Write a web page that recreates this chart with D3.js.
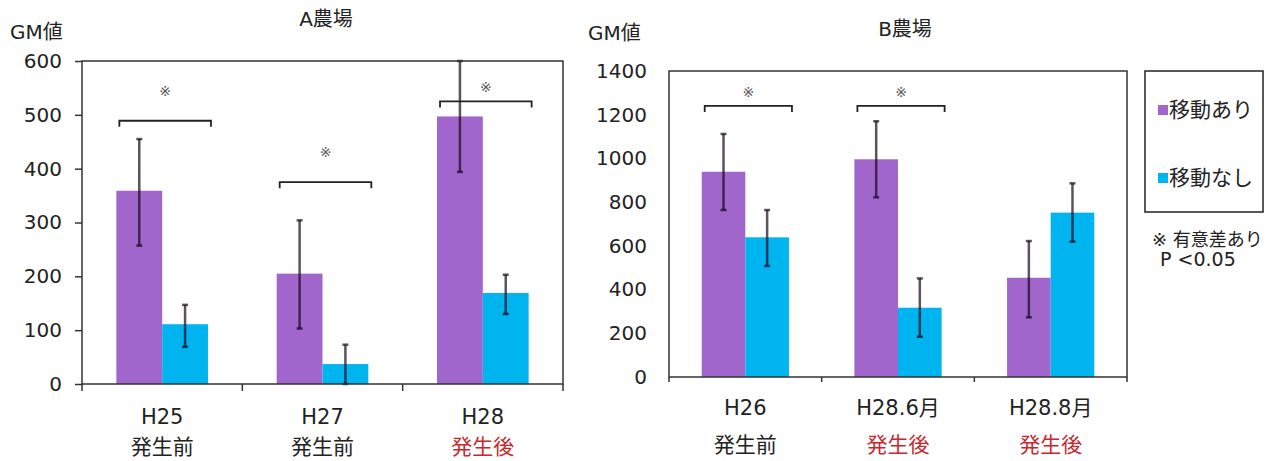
<!DOCTYPE html>
<html>
<head>
<meta charset="utf-8">
<script src="https://cdn.jsdelivr.net/npm/d3@7"></script>
<style>
  body { margin: 0; background: #fff; }
  text { font-family: "DejaVu Sans", "Noto Sans CJK JP", sans-serif; fill: #222; }
</style>
</head>
<body>
<svg width="1280" height="461"></svg>
<script>
// series
var seriesNames = ["移動あり", "移動なし"];
var seriesColors = ["#a066cc", "#00b4f0"];

// A farm
var catsA = ["H25", "H27", "H28"];
var phaseA = ["発生前", "発生前", "発生後"];
var movA = [359, 205, 497];
var movLoA = [257, 103, 394];
var movHiA = [455, 304, 600];
var stayA = [111, 37, 169];
var stayLoA = [69, 0, 130];
var stayHiA = [147, 73, 203];
var ticksA = [0, 100, 200, 300, 400, 500, 600];
var sigA = [0, 1, 2];            // category with bracket
var sigLevelA = [489, 375, 525]; // bracket height
var sigStarA = [545, 431, 552];  // ※ height

// B farm
var catsB = ["H26", "H28.6月", "H28.8月"];
var phaseB = ["発生前", "発生後", "発生後"];
var movB = [939, 996, 454];
var movLoB = [764, 822, 273];
var movHiB = [1112, 1170, 622];
var stayB = [639, 317, 752];
var stayLoB = [508, 184, 619];
var stayHiB = [764, 451, 886];
var ticksB = [0, 200, 400, 600, 800, 1000, 1200, 1400];
var sigB = [0, 1];
var sigLevelB = [1240, 1240];
var sigStarB = [1305, 1305];

var svg = d3.select("svg");

function drawPanel(o) {
  var x = d3.scaleBand().domain(o.cats).range([o.left, o.right]).padding(0);
  var xs = d3.scaleBand().domain(seriesNames).range([0, x.bandwidth()]).paddingInner(0).paddingOuter(0.75);
  var y = d3.scaleLinear().domain([0, o.max]).range([o.bottom, o.top]);

  // y axis
  var ax = svg.append("g")
    .attr("transform", "translate(" + o.left + ",0)")
    .call(d3.axisLeft(y).tickValues(o.ticks).tickFormat(d3.format("d"))
      .tickSize(o.tickLen).tickPadding(o.tickPad));
  ax.select(".domain").remove();
  ax.selectAll("line").attr("stroke", "#333").attr("stroke-width", 1.5);
  ax.selectAll("text").style("font-size", "20px").attr("fill", "#222")
    .style("font-family", "'DejaVu Sans', sans-serif");

  // bars
  var rows = o.cats.map(function(c, i) {
    return [
      { cat: c, s: seriesNames[0], v: o.mov[i], lo: o.movLo[i], hi: o.movHi[i], col: seriesColors[0] },
      { cat: c, s: seriesNames[1], v: o.stay[i], lo: o.stayLo[i], hi: o.stayHi[i], col: seriesColors[1] }
    ];
  });
  var flat = [].concat.apply([], rows);

  svg.append("g").selectAll("rect")
    .data(flat).enter().append("rect")
    .attr("x", function(d) { return x(d.cat) + xs(d.s); })
    .attr("y", function(d) { return y(d.v); })
    .attr("width", xs.bandwidth())
    .attr("height", function(d) { return y(0) - y(d.v); })
    .attr("fill", function(d) { return d.col; });

  // error bars
  var eb = svg.append("g").attr("stroke", "rgba(20,10,30,0.7)").attr("stroke-width", 2.5);
  flat.forEach(function(d) {
    var cx = x(d.cat) + xs(d.s) + xs.bandwidth() / 2;
    eb.append("line").attr("x1", cx).attr("x2", cx).attr("y1", y(d.lo)).attr("y2", y(d.hi));
    eb.append("line").attr("x1", cx - 3).attr("x2", cx + 3).attr("y1", y(d.hi)).attr("y2", y(d.hi));
    eb.append("line").attr("x1", cx - 3).attr("x2", cx + 3).attr("y1", y(d.lo)).attr("y2", y(d.lo));
  });

  // frame
  svg.append("rect")
    .attr("x", o.left).attr("y", o.top)
    .attr("width", o.right - o.left).attr("height", o.bottom - o.top)
    .attr("fill", "none").attr("stroke", "#333").attr("stroke-width", 1.5);

  // x ticks at band edges
  var edges = o.cats.map(function(c) { return x(c); }).concat([o.right]);
  svg.append("g").selectAll("line").data(edges).enter().append("line")
    .attr("x1", function(d) { return d; }).attr("x2", function(d) { return d; })
    .attr("y1", o.bottom).attr("y2", o.bottom + o.xTickLen)
    .attr("stroke", "#333").attr("stroke-width", 1.5);

  // x labels
  var lab = svg.append("g");
  o.cats.forEach(function(c, i) {
    var cx = x(c) + x.bandwidth() / 2;
    lab.append("text").attr("x", cx).attr("y", o.labY1).attr("text-anchor", "middle")
      .attr("dominant-baseline", "central").style("font-size", "21px").text(c);
    lab.append("text").attr("x", cx).attr("y", o.labY2).attr("text-anchor", "middle")
      .attr("dominant-baseline", "central").style("font-size", "21px")
      .style("fill", o.phase[i] === "発生後" ? "#c8282d" : "#222")
      .text(o.phase[i]);
  });

  // significance brackets
  var br = svg.append("g");
  o.sig.forEach(function(ci, k) {
    var c = o.cats[ci];
    var x1 = x(c) + xs(seriesNames[0]) + 3;
    var x2 = x(c) + xs(seriesNames[1]) + xs.bandwidth() + 3;
    var yy = y(o.sigLevel[k]);
    br.append("path")
      .attr("d", "M" + x1 + "," + (yy + 6) + "V" + yy + "H" + x2 + "V" + (yy + 6))
      .attr("fill", "none").attr("stroke", "#222").attr("stroke-width", 1.8);
    br.append("text").attr("x", (x1 + x2) / 2).attr("y", y(o.sigStar[k]))
      .attr("text-anchor", "middle").attr("dominant-baseline", "central")
      .style("font-size", "14px").style("fill", "#555").text("※");
  });

  // titles
  svg.append("text").attr("x", o.gmX).attr("y", o.gmY).attr("dominant-baseline", "central")
    .style("font-size", "20px").text("GM値");
  svg.append("text").attr("x", o.titleX).attr("y", o.titleY).attr("text-anchor", "middle")
    .attr("dominant-baseline", "central").style("font-size", "20px").text(o.title);
}

drawPanel({
  cats: catsA, phase: phaseA, mov: movA, movLo: movLoA, movHi: movHiA,
  stay: stayA, stayLo: stayLoA, stayHi: stayHiA, ticks: ticksA, max: 600,
  sig: sigA, sigLevel: sigLevelA, sigStar: sigStarA,
  left: 82, right: 563, top: 61, bottom: 384, tickLen: 7, tickPad: 13, xTickLen: 7,
  labY1: 417, labY2: 447, gmX: 10, gmY: 32, title: "A農場", titleX: 326, titleY: 19
});

drawPanel({
  cats: catsB, phase: phaseB, mov: movB, movLo: movLoB, movHi: movHiB,
  stay: stayB, stayLo: stayLoB, stayHi: stayHiB, ticks: ticksB, max: 1400,
  sig: sigB, sigLevel: sigLevelB, sigStar: sigStarB,
  left: 669, right: 1127, top: 71, bottom: 377, tickLen: 0, tickPad: 22, xTickLen: 5,
  labY1: 408, labY2: 445, gmX: 588, gmY: 33, title: "B農場", titleX: 905, titleY: 29
});

// legend
var lg = svg.append("g");
lg.append("rect").attr("x", 1145).attr("y", 71).attr("width", 118).attr("height", 141)
  .attr("fill", "none").attr("stroke", "#222").attr("stroke-width", 1.5);
seriesNames.forEach(function(s, i) {
  var yy = 110 + i * 68;
  lg.append("rect").attr("x", 1158).attr("y", yy - 5).attr("width", 10).attr("height", 10)
    .attr("fill", seriesColors[i]);
  lg.append("text").attr("x", 1169).attr("y", yy).attr("dominant-baseline", "central")
    .style("font-size", "21px").text(s);
});
svg.append("text").attr("x", 1152).attr("y", 239).attr("dominant-baseline", "central")
  .style("font-size", "18px").text("※ 有意差あり");
svg.append("text").attr("x", 1160).attr("y", 259).attr("dominant-baseline", "central")
  .style("font-size", "19px").text("P <0.05");
</script>
</body>
</html>
